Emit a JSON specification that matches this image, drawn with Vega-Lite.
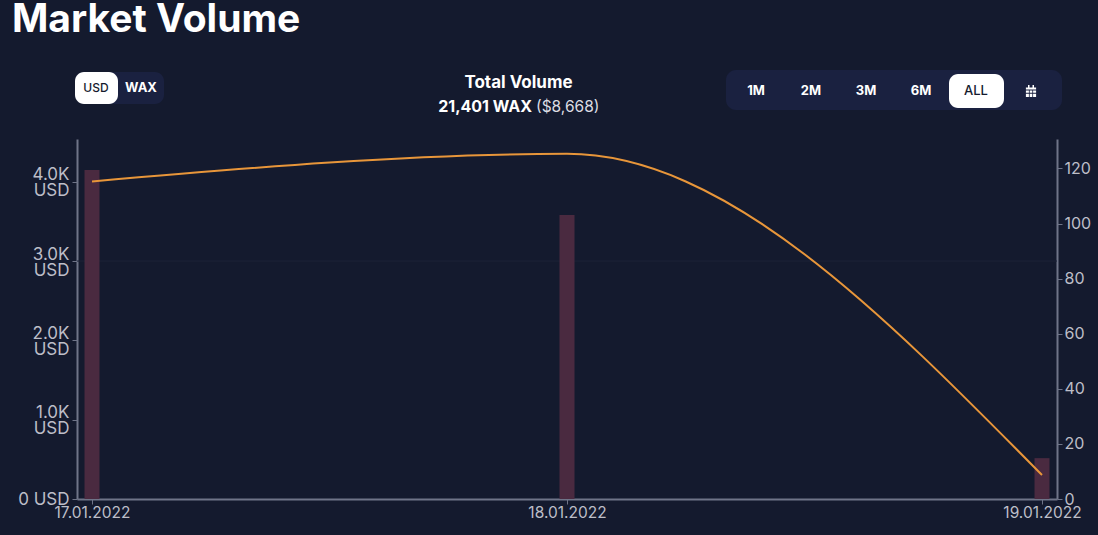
{
  "$schema": "https://vega.github.io/schema/vega-lite/v6.json",
  "background": "#141a2e",
  "autosize": "none",
  "padding": {"left": 77, "top": 139, "right": 41, "bottom": 36},
  "width": 980,
  "height": 360,
  "config": {"font": "Inter", "view": {"stroke": null}},
  "title": {
    "text": "Market Volume",
    "anchor": "start",
    "frame": "group",
    "fontSize": 39,
    "fontWeight": 700,
    "color": "#ffffff",
    "dx": -65,
    "offset": 30
  },
  "datasets": {
    "volume": [
      {"date": "17.01.2022", "usd": 4148, "price": 115.3},
      {"date": "18.01.2022", "usd": 3580, "price": 125.3},
      {"date": "19.01.2022", "usd": 515, "price": 8.7}
    ]
  },
  "layer": [
    {
      "data": {"values": [{"label": "range"}]},
      "mark": {"type": "rect", "cornerRadius": 10, "fill": "#1a2140"},
      "encoding": {
        "x": {"field": "label", "type": "nominal", "axis": null, "scale": {"type": "band", "domain": ["range"], "range": [649, 985], "padding": 0}},
        "y": {"field": "label", "type": "nominal", "axis": null, "scale": {"type": "band", "domain": ["range"], "range": [-69, -29], "padding": 0}}
      }
    },
    {
      "data": {"values": [{"label": "unit"}]},
      "mark": {"type": "rect", "cornerRadius": 9, "fill": "#1a2140"},
      "encoding": {
        "x": {"field": "label", "type": "nominal", "axis": null, "scale": {"type": "band", "domain": ["unit"], "range": [-2, 87], "padding": 0}},
        "y": {"field": "label", "type": "nominal", "axis": null, "scale": {"type": "band", "domain": ["unit"], "range": [-67, -35], "padding": 0}}
      }
    },
    {
      "data": {"values": [{"label": "USD"}]},
      "mark": {"type": "rect", "cornerRadius": 9, "fill": "#ffffff"},
      "encoding": {
        "x": {"field": "label", "type": "nominal", "axis": null, "scale": {"type": "band", "domain": ["USD"], "range": [-2, 41], "padding": 0}},
        "y": {"field": "label", "type": "nominal", "axis": null, "scale": {"type": "band", "domain": ["USD"], "range": [-67, -35], "padding": 0}}
      }
    },
    {
      "data": {"values": [{"label": "ALL"}]},
      "mark": {"type": "rect", "cornerRadius": 9, "fill": "#ffffff"},
      "encoding": {
        "x": {"field": "label", "type": "nominal", "axis": null, "scale": {"type": "band", "domain": ["ALL"], "range": [872, 927], "padding": 0}},
        "y": {"field": "label", "type": "nominal", "axis": null, "scale": {"type": "band", "domain": ["ALL"], "range": [-65, -31], "padding": 0}}
      }
    },
    {
      "data": {"values": [{"label": "1M"}, {"label": "2M"}, {"label": "3M"}, {"label": "6M"}]},
      "mark": {"type": "text", "fontSize": 13, "fontWeight": 700, "color": "#ffffff", "baseline": "middle"},
      "encoding": {
        "text": {"field": "label"},
        "x": {"field": "label", "type": "nominal", "axis": null, "scale": {"type": "point", "domain": ["1M", "2M", "3M", "6M", "ALL", "cal"], "range": [679, 954], "padding": 0}},
        "y": {"datum": "row", "type": "nominal", "axis": null, "scale": {"type": "point", "domain": ["row"], "range": [-48, -48]}}
      }
    },
    {
      "data": {"values": [{"label": "ALL"}]},
      "mark": {"type": "text", "fontSize": 13, "fontWeight": 500, "color": "#141a2e", "baseline": "middle"},
      "encoding": {
        "text": {"field": "label"},
        "x": {"field": "label", "type": "nominal", "axis": null, "scale": {"type": "point", "domain": ["1M", "2M", "3M", "6M", "ALL", "cal"], "range": [679, 954], "padding": 0}},
        "y": {"datum": "row", "type": "nominal", "axis": null, "scale": {"type": "point", "domain": ["row"], "range": [-48, -48]}}
      }
    },
    {
      "data": {"values": [{"label": "cal"}]},
      "mark": {
        "type": "point",
        "filled": true,
        "opacity": 1,
        "color": "#ffffff",
        "size": 144,
        "shape": "M-0.85 -0.6H-0.5V-1H-0.25V-0.6H0.25V-1H0.5V-0.6H0.85V-0.25H-0.85ZM-0.85 -0.1H-0.35V0.3H-0.85ZM-0.22 -0.1H0.22V0.3H-0.22ZM0.35 -0.1H0.85V0.3H0.35ZM-0.85 0.45H-0.35V1H-0.85ZM-0.22 0.45H0.22V1H-0.22ZM0.35 0.45H0.85V1H0.35Z"
      },
      "encoding": {
        "x": {"field": "label", "type": "nominal", "axis": null, "scale": {"type": "point", "domain": ["1M", "2M", "3M", "6M", "ALL", "cal"], "range": [679, 954], "padding": 0}},
        "y": {"datum": "row", "type": "nominal", "axis": null, "scale": {"type": "point", "domain": ["row"], "range": [-48, -48]}}
      }
    },
    {
      "data": {"values": [{"label": "USD"}]},
      "mark": {"type": "text", "fontSize": 12, "fontWeight": 500, "color": "#141a2e", "baseline": "middle"},
      "encoding": {
        "text": {"field": "label"},
        "x": {"field": "label", "type": "nominal", "axis": null, "scale": {"type": "point", "domain": ["USD", "WAX"], "range": [19, 64], "padding": 0}},
        "y": {"datum": "row", "type": "nominal", "axis": null, "scale": {"type": "point", "domain": ["row"], "range": [-51, -51]}}
      }
    },
    {
      "data": {"values": [{"label": "WAX"}]},
      "mark": {"type": "text", "fontSize": 13, "fontWeight": 700, "color": "#ffffff", "baseline": "middle"},
      "encoding": {
        "text": {"field": "label"},
        "x": {"field": "label", "type": "nominal", "axis": null, "scale": {"type": "point", "domain": ["USD", "WAX"], "range": [19, 64], "padding": 0}},
        "y": {"datum": "row", "type": "nominal", "axis": null, "scale": {"type": "point", "domain": ["row"], "range": [-51, -51]}}
      }
    },
    {
      "data": {"values": [{"label": "Total Volume"}]},
      "mark": {"type": "text", "fontSize": 17, "fontWeight": 700, "color": "#ffffff", "baseline": "middle", "align": "center"},
      "encoding": {
        "text": {"field": "label"},
        "x": {"field": "label", "type": "nominal", "axis": null, "scale": {"type": "point", "domain": ["Total Volume"], "range": [441.5, 441.5]}},
        "y": {"datum": "row", "type": "nominal", "axis": null, "scale": {"type": "point", "domain": ["row"], "range": [-56, -56]}}
      }
    },
    {
      "data": {"values": [{"label": "21,401 WAX"}]},
      "mark": {"type": "text", "fontSize": 16, "fontWeight": 700, "color": "#ffffff", "baseline": "middle", "align": "right"},
      "encoding": {
        "text": {"field": "label"},
        "x": {"field": "label", "type": "nominal", "axis": null, "scale": {"type": "point", "domain": ["21,401 WAX"], "range": [455, 455]}},
        "y": {"datum": "row", "type": "nominal", "axis": null, "scale": {"type": "point", "domain": ["row"], "range": [-32, -32]}}
      }
    },
    {
      "data": {"values": [{"label": "($8,668)"}]},
      "mark": {"type": "text", "fontSize": 15.5, "fontWeight": 400, "color": "#dcdde3", "baseline": "middle", "align": "left"},
      "encoding": {
        "text": {"field": "label"},
        "x": {"field": "label", "type": "nominal", "axis": null, "scale": {"type": "point", "domain": ["($8,668)"], "range": [459, 459]}},
        "y": {"datum": "row", "type": "nominal", "axis": null, "scale": {"type": "point", "domain": ["row"], "range": [-32, -32]}}
      }
    },
    {
      "data": {"values": [{"level": 3000}]},
      "mark": {"type": "rule", "stroke": "#1c2338", "strokeWidth": 1},
      "encoding": {
        "y": {"field": "level", "type": "quantitative", "axis": null, "scale": {"domain": [0, 4539], "nice": false}}
      }
    },
    {
      "data": {"name": "volume"},
      "mark": {"type": "bar", "size": 15, "color": "#4a2a40"},
      "encoding": {
        "x": {
          "field": "date",
          "type": "nominal",
          "sort": null,
          "title": null,
          "scale": {"type": "point", "padding": 0.0316},
          "axis": {"labelAngle": 0, "domainColor": "#6f7488", "domainWidth": 2, "tickColor": "#6f7488", "tickSize": 5, "labelColor": "#bdbec8", "labelFontSize": 15.5, "labelPadding": 1, "labelBaseline": "top"}
        },
        "y": {
          "field": "usd",
          "type": "quantitative",
          "title": null,
          "scale": {"domain": [0, 4539], "nice": false},
          "axis": {
            "orient": "left",
            "grid": false,
            "values": [0, 1000, 2000, 3000, 4000],
            "labelExpr": "datum.value == 0 ? '0 USD' : [format(datum.value / 1000, '.1f') + 'K', 'USD']",
            "labelLineHeight": 16,
            "labelOffset": {"condition": {"test": "datum.value > 0", "value": -7}, "value": 0},
            "domainColor": "#6f7488",
            "domainWidth": 2,
            "tickColor": "#6f7488",
            "tickSize": 5,
            "labelColor": "#bdbec8",
            "labelFontSize": 17,
            "labelPadding": 3
          }
        }
      }
    },
    {
      "data": {"name": "volume"},
      "mark": {"type": "line", "interpolate": "monotone", "color": "#e8963a", "strokeWidth": 2},
      "encoding": {
        "x": {"field": "date", "type": "nominal", "sort": null, "axis": null, "scale": {"type": "point", "padding": 0.0316}},
        "y": {
          "field": "price",
          "type": "quantitative",
          "title": null,
          "scale": {"domain": [0, 130.7], "nice": false},
          "axis": {
            "orient": "right",
            "grid": false,
            "values": [0, 20, 40, 60, 80, 100, 120],
            "domainColor": "#6f7488",
            "domainWidth": 2,
            "tickColor": "#6f7488",
            "tickSize": 5,
            "labelColor": "#bdbec8",
            "labelFontSize": 16,
            "labelPadding": 2
          }
        }
      }
    }
  ],
  "resolve": {"scale": {"x": "independent", "y": "independent"}, "axis": {"x": "independent", "y": "independent"}}
}
